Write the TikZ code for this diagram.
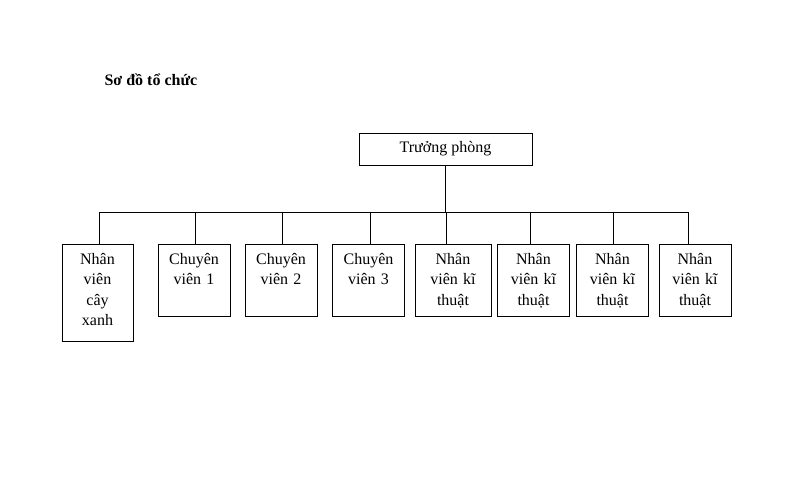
\documentclass[tikz,border=0pt]{standalone}
\usepackage{fontspec}
\setmainfont{Liberation Serif}
\usetikzlibrary{positioning}

\tikzset{
  box/.style={draw,line width=0.8pt,anchor=north,align=center,text width=58pt,
    inner xsep=7pt,inner ysep=6pt,text height=14pt,text depth=46pt,
    font=\fontsize{16}{20.5}\selectfont},
  boss/.style={draw,line width=0.8pt,minimum width=173pt,minimum height=32pt,
    text height=11pt,text depth=4pt,font=\fontsize{16}{20}\selectfont},
  title/.style={anchor=base west,font=\fontsize{16}{20}\selectfont\bfseries},
  link/.style={line width=0.8pt}
}

\begin{document}
\begin{tikzpicture}[x=1pt,y=-1pt]
  \useasboundingbox (0,0) rectangle (798,477);
  \node(ttl) [title] at (101,85) {Sơ đồ tổ chức};
  \node(tp) [boss] at (445.5,149) {Trưởng phòng};
  % cac phong ban
  \node(nv) [box,text width=48pt,inner xsep=11.5pt,text depth=71pt] at (97.5,244) {Nhân viên cây xanh};
  \node(cv1) [box] at (194,244) {Chuyên viên 1};
  \node(cv2) [box] at (281,244) {Chuyên viên 2};
  \node(cv3) [box] at (368.5,244) {Chuyên viên 3};
  \node(kt1) [box,text width=62pt] at (453,244) {Nhân viên kĩ thuật};
  \node(kt2) [box] at (533.5,244) {Nhân viên kĩ thuật};
  \node(kt3) [box] at (612.5,244) {Nhân viên kĩ thuật};
  \node(kt4) [box] at (695,244) {Nhân viên kĩ thuật};
  % duong noi
  \coordinate(b1) at (99,212);
  \coordinate(b2) at (195,212);
  \coordinate(b3) at (282,212);
  \coordinate(b4) at (370,212);
  \coordinate(b5) at (446,212);
  \coordinate(b6) at (530,212);
  \coordinate(b7) at (613,212);
  \coordinate(b8) at (688,212);
  \draw[link] (tp) -- (tp |- b1);
  \draw[link] (b1) -- (b8);
  \draw[link] (b1) -- (b1 |- nv.north);
  \draw[link] (b2) -- (b2 |- cv1.north);
  \draw[link] (b3) -- (b3 |- cv2.north);
  \draw[link] (b4) -- (b4 |- cv3.north);
  \draw[link] (b5) -- (b5 |- kt1.north);
  \draw[link] (b6) -- (b6 |- kt2.north);
  \draw[link] (b7) -- (b7 |- kt3.north);
  \draw[link] (b8) -- (b8 |- kt4.north);
\end{tikzpicture}
\end{document}
